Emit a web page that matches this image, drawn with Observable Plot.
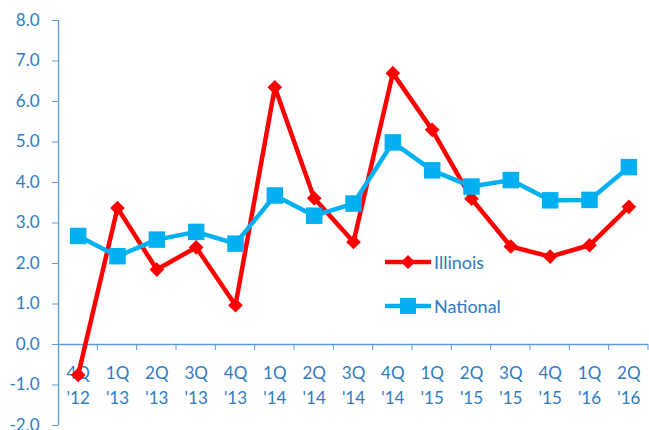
<!DOCTYPE html>
<html>
<head>
<meta charset="utf-8">
<script src="https://cdn.jsdelivr.net/npm/d3@7"></script>
<script src="https://cdn.jsdelivr.net/npm/@observablehq/plot@0.6"></script>
<style>
  html, body { margin: 0; padding: 0; background: #fff; }
  #wrap { position: relative; width: 649px; height: 430px; font-family: Lato, "Open Sans", sans-serif; }
  .leg { position: absolute; display: flex; align-items: center; font-size: 18px; color: #2E7BC4; }
  .leg svg { margin-right: 3px; }
</style>
</head>
<body>
<div id="wrap"></div>
<script>
const quarters = ["4Q", "1Q", "2Q", "3Q", "4Q", "1Q", "2Q", "3Q", "4Q", "1Q", "2Q", "3Q", "4Q", "1Q", "2Q"];
const years = ["'12", "'13", "'13", "'13", "'13", "'14", "'14", "'14", "'14", "'15", "'15", "'15", "'15", "'16", "'16"];
const illinois = [-0.75, 3.37, 1.85, 2.4, 0.97, 6.35, 3.61, 2.53, 6.7, 5.3, 3.6, 2.42, 2.17, 2.45, 3.4];
const national = [2.68, 2.18, 2.59, 2.78, 2.49, 3.68, 3.18, 3.48, 4.99, 4.3, 3.9, 4.06, 3.56, 3.57, 4.38];
const yTicks = [-2, -1, 0, 1, 2, 3, 4, 5, 6, 7, 8];
const seriesNames = ["Illinois", "National"];

const RED = "#FF0000", BLUE = "#00B0F0", TEXT = "#2E7BC4", AXIS = "#5B9BD5";

const idx = quarters.map((_, i) => i);
const ilData = idx.map(i => ({i, v: illinois[i]}));
const naData = idx.map(i => ({i, v: national[i]}));
const labels = idx.map(i => ({i, t: quarters[i] + "\n" + years[i]}));
const bounds = d3.range(0, quarters.length + 1).map(k => k - 0.5);

const tickMarks = (index, scales) => {
  const g = d3.create("svg:g").attr("stroke", AXIS).attr("stroke-width", 1);
  const y0 = scales.y(0);
  for (const b of bounds.slice(1)) {
    g.append("line").attr("x1", scales.x(b)).attr("x2", scales.x(b)).attr("y1", y0).attr("y2", y0 + 6);
  }
  return g.node();
};

const chart = Plot.plot({
  width: 649,
  height: 430,
  marginLeft: 58,
  marginRight: 1,
  marginTop: 20,
  marginBottom: 5,
  style: {fontFamily: "Lato, 'Open Sans', sans-serif", fontSize: "17px", background: "#fff", overflow: "visible"},
  x: {domain: [-0.5, quarters.length - 0.5], axis: null},
  y: {domain: [-2, 8], axis: null},
  marks: [
    Plot.axisY(yTicks, {label: null, tickSize: 6, tickPadding: 13, stroke: AXIS, fill: TEXT, tickFormat: d => d.toFixed(1), fontSize: 17}),
    Plot.ruleX([-0.5], {stroke: AXIS, strokeWidth: 1.3}),
    Plot.ruleY([0], {stroke: AXIS, strokeWidth: 1.3}),
    tickMarks,
    Plot.text(labels, {x: "i", y: () => 0, text: "t", dy: 16, lineAnchor: "top", lineHeight: 1.5, fill: TEXT, fontSize: 17}),
    Plot.line(ilData, {x: "i", y: "v", stroke: RED, strokeWidth: 4.5}),
    Plot.dot(ilData, {x: "i", y: "v", symbol: "diamond2", r: 6.6, fill: RED, stroke: "none"}),
    Plot.line(naData, {x: "i", y: "v", stroke: BLUE, strokeWidth: 4.5}),
    Plot.dot(naData, {x: "i", y: "v", symbol: "square", r: 9.3, fill: BLUE, stroke: "none"})
  ]
});

const wrap = document.getElementById("wrap");
wrap.appendChild(chart);

function legendItem(name, color, shape, top) {
  const div = document.createElement("div");
  div.className = "leg";
  div.style.left = "385px";
  div.style.top = top + "px";
  const mk = shape === "diamond"
    ? `<path d="M23,3 L30,10 L23,17 L16,10 Z" fill="${color}"/>`
    : `<rect x="15" y="2" width="16" height="16" fill="${color}"/>`;
  div.innerHTML = `<svg width="46" height="20"><line x1="0" x2="46" y1="10" y2="10" stroke="${color}" stroke-width="4.5"/>${mk}</svg><span>${name}</span>`;
  wrap.appendChild(div);
}
legendItem(seriesNames[0], RED, "diamond", 251);
legendItem(seriesNames[1], BLUE, "square", 295);
</script>
</body>
</html>
